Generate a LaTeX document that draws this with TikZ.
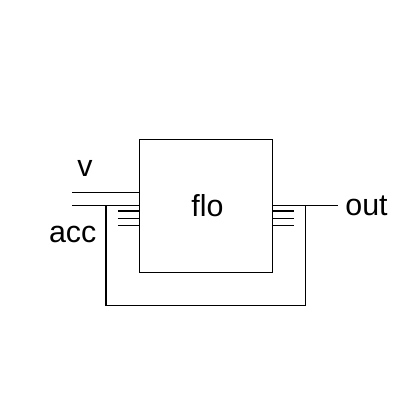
\documentclass[tikz,border=0pt]{standalone}
\usepackage{fontspec}
\setmainfont{Liberation Sans}
\usepackage{tikz}

\begin{document}
\begin{tikzpicture}[x=1bp,y=-1bp,font=\fontsize{30.5}{36}\selectfont]
\def\s{133}
\def\lw{1.3bp}
\useasboundingbox (0,0) rectangle (412,412);
\node[draw,line width=0.9bp,minimum size=\s bp,inner sep=0pt] (flo) at (205.5,205.5) {};
\node[anchor=base] (flotxt) at (207.5,216.7) {flo};
\coordinate (vin) at (72,192.7);
\coordinate (accin) at (72,205.5);
\coordinate (outend) at (338,205.5);
\coordinate (fbl) at (106,205.5);
\coordinate (fbr) at (305.7,205.5);
\draw[line width=\lw] (vin) -- (vin -| flo.west);
\draw[line width=\lw] (accin) -- (flo.west);
\draw[line width=\lw] (flo.east) -- (outend);
\draw[line width=\lw] (fbr) -- ++(0,99.8) -| (fbl);
\foreach \dy in {5.5,12.8,20.2} {
  \draw[line width=\lw] (flo.west) ++(-20.7,\dy) -- ++(20.7,0);
  \draw[line width=\lw] (flo.east) ++(0,\dy) -- ++(21.7,0);
}
\node[anchor=base] (v) at (85,176.7) {v};
\node[anchor=base] (acc) at (72.7,242.7) {acc};
\node[anchor=base] (out) at (366.5,215.2) {out};
\end{tikzpicture}
\end{document}
